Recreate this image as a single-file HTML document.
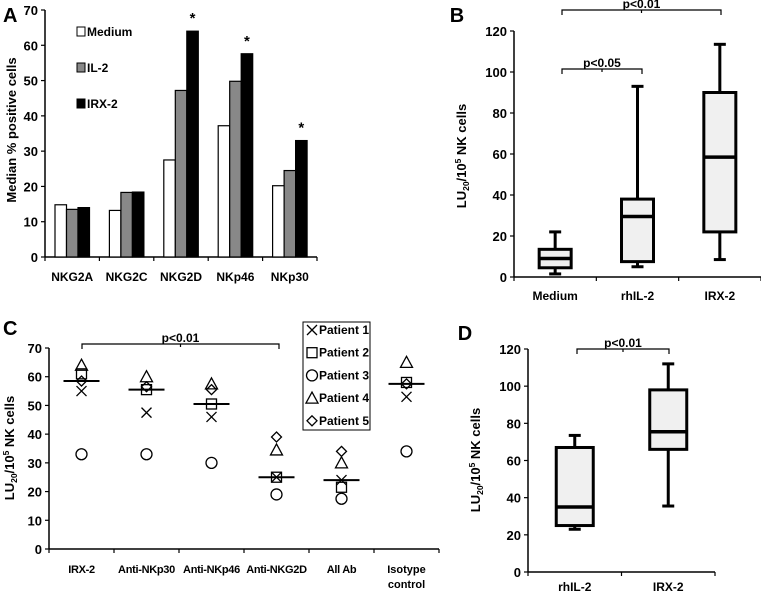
<!DOCTYPE html>
<html><head><meta charset="utf-8"><style>
body{margin:0;background:#fff}svg{display:block;font-family:"Liberation Sans",sans-serif;font-weight:bold}
</style></head><body>
<svg id="s" width="761" height="591" viewBox="0 0 761 591"></svg>
<script>
// Panel A data
const aCats=["NKG2A","NKG2C","NKG2D","NKp46","NKp30"];
const aMedium=[14.8,13.2,27.5,37.2,20.2];
const aIL2=[13.5,18.3,47.2,49.8,24.5];
const aIRX2=[14,18.4,64,57.6,33];
const aTicks=[0,10,20,30,40,50,60,70];
const aStars=[false,false,true,true,true];
// Panel B data
const bCats=["Medium","rhIL-2","IRX-2"];
const bMin=[1.5,5,8.5];
const bQ1=[4.5,7.5,22];
const bMed=[9,29.5,58.5];
const bQ3=[13.5,38,90];
const bMax=[22,93,113.5];
const bTicks=[0,20,40,60,80,100,120];
// Panel C data
const cCats=["IRX-2","Anti-NKp30","Anti-NKp46","Anti-NKG2D","All Ab","Isotype control"];
const cP1=[55,47.5,46,25,24,53];
const cP2=[61,55.5,50.5,25,21.5,58];
const cP3=[33,33,30,19,17.5,34];
const cP4=[64,60,57.5,34.5,30,65];
const cP5=[58.5,56.5,55.5,39,34,57.5];
const cMedian=[58.5,55.5,50.5,25,24,57.5];
const cTicks=[0,10,20,30,40,50,60,70];
// Panel D data
const dCats=["rhIL-2","IRX-2"];
const dMin=[23,35.5];
const dQ1=[25,66];
const dMed=[35,75.5];
const dQ3=[67,98];
const dMax=[73.5,112];
const dTicks=[0,20,40,60,80,100,120];

const S=document.getElementById('s');const NS="http://www.w3.org/2000/svg";
function el(t,a,p){const e=document.createElementNS(NS,t);for(const k in a)e.setAttribute(k,a[k]);(p||S).appendChild(e);return e;}
function txt(x,y,s,size,anchor,p){const e=el('text',{x:x,y:y,'font-size':size,'text-anchor':anchor||'middle'},p);e.textContent=s;return e;}
function axes(g,x0,x1,y0,y1,max,ticks,ncat,fs){
  const ys=v=>y0-(v/max)*(y0-y1);
  el('line',{x1:x0,y1:y0,x2:x0,y2:y1,stroke:'#000','stroke-width':1.5},g);
  el('line',{x1:x0,y1:y0,x2:x1,y2:y0,stroke:'#000','stroke-width':1.5},g);
  ticks.forEach(t=>{el('line',{x1:x0-4,y1:ys(t),x2:x0,y2:ys(t),stroke:'#000','stroke-width':1.2},g);
    const e=txt(x0-7,ys(t)+5,String(t),fs,'end',g);});
  const w=(x1-x0)/ncat;for(let i=0;i<=ncat;i++)el('line',{x1:x0+i*w,y1:y0,x2:x0+i*w,y2:y0+4,stroke:'#000','stroke-width':1.2},g);
  return ys;}
function ylabel(g,x,y,fs){const t=el('text',{transform:`translate(${x},${y}) rotate(-90)`,'font-size':fs,'text-anchor':'middle'},g);
  t.innerHTML='LU<tspan font-size="'+(fs*0.65)+'" dy="3">20</tspan><tspan dy="-3">/10</tspan><tspan font-size="'+(fs*0.65)+'" dy="-5">5</tspan><tspan dy="5"> NK cells</tspan>';
  }
function bracket(g,xa,xb,y,label){el('path',{d:`M${xa},${y+5}V${y}H${xb}V${y+5}M${(xa+xb)/2},${y}v3`,stroke:'#000','stroke-width':1.2,fill:'none'},g);
  const e=txt((xa+xb)/2,y-2,label,12,'middle',g);}
function boxes(g,x0,w,ys,mn,q1,md,q3,mx,bw){
  for(let i=0;i<mn.length;i++){const cx=x0+w*(i+0.5);
    const b=el('g',{},g);
    el('line',{x1:cx,y1:ys(mn[i]),x2:cx,y2:ys(mx[i]),stroke:'#000','stroke-width':3},b);
    el('line',{x1:cx-6,y1:ys(mn[i]),x2:cx+6,y2:ys(mn[i]),stroke:'#000','stroke-width':3},b);
    el('line',{x1:cx-6,y1:ys(mx[i]),x2:cx+6,y2:ys(mx[i]),stroke:'#000','stroke-width':3},b);
    el('rect',{x:cx-bw/2,y:ys(q3[i]),width:bw,height:ys(q1[i])-ys(q3[i]),fill:'#f0f0f0',stroke:'#000','stroke-width':3},b);
    el('line',{x1:cx-bw/2,y1:ys(md[i]),x2:cx+bw/2,y2:ys(md[i]),stroke:'#000','stroke-width':3.5},b);}}

// Panel A
const gA=el('g',{});
txt(3,22,'A',20,'start',gA);
const ysA=axes(gA,45,317,257,10,70,aTicks,5,13);
{const t=el('text',{transform:'translate(16,130) rotate(-90)','font-size':13,'text-anchor':'middle'},gA);t.textContent='Median % positive cells';
}
const cwA=272/5,bwA=11.5;
[aMedium,aIL2,aIRX2].forEach((ser,si)=>{const fill=['#fff','#888','#000'][si];
  ser.forEach((v,i)=>{const r=el('rect',{x:45+cwA*i+10+si*bwA,y:ysA(v),width:bwA,height:257-ysA(v),fill:fill,stroke:'#000','stroke-width':1.2},gA);
  });});
aCats.forEach((c,i)=>{const e=txt(45+cwA*(i+0.5),281,c,12,'middle',gA);
  if(aStars[i]){const s=txt(45+cwA*i+10+2.5*bwA,ysA(aIRX2[i])-8,'*',15,'middle',gA);}});
['Medium','IL-2','IRX-2'].forEach((n,i)=>{const y=[32,68,104][i];
  const g=el('g',{},gA);
  el('rect',{x:77,y:y-5,width:8,height:9,fill:['#fff','#888','#000'][i],stroke:'#000','stroke-width':1},g);txt(87,y+4,n,12,'start',g);});

// Panel B
const gB=el('g',{});
txt(457,22,'B',20,'middle',gB);
const ysB=axes(gB,514,761,277,31,120,bTicks,3,13);
ylabel(gB,466,156,13);
boxes(gB,514,247/3,ysB,bMin,bQ1,bMed,bQ3,bMax,32);
bCats.forEach((c,i)=>{const e=txt(514+247/3*(i+0.5),300,c,12,'middle',gB);});
bracket(gB,562,721,10,'p<0.01');bracket(gB,562,642,69,'p<0.05');

// Panel C
const gC=el('g',{});
txt(3,335,'C',20,'start',gC);
const ysC=axes(gC,49,439,549,348,70,cTicks,6,13);
ylabel(gC,14,448,13);
const cwC=390/6;
function marker(g,k,x,y){const a={fill:'none',stroke:'#000','stroke-width':1.3};
  if(k==0)el('path',Object.assign({d:`M${x-5},${y-5}L${x+5},${y+5}M${x-5},${y+5}L${x+5},${y-5}`},a),g);
  if(k==1)el('rect',Object.assign({x:x-5,y:y-5,width:10,height:10},a),g);
  if(k==2)el('circle',Object.assign({cx:x,cy:y,r:5.5},a),g);
  if(k==3)el('path',Object.assign({d:`M${x},${y-6}L${x+6},${y+5}L${x-6},${y+5}Z`},a),g);
  if(k==4)el('path',Object.assign({d:`M${x},${y-5}L${x+5},${y}L${x},${y+5}L${x-5},${y}Z`},a),g);}
[cP1,cP2,cP3,cP4,cP5].forEach((ser,k)=>ser.forEach((v,i)=>{const g=el('g',{},gC);marker(g,k,49+cwC*(i+0.5),ysC(v));}));
cMedian.forEach((v,i)=>{const l=el('line',{x1:49+cwC*(i+0.5)-18,x2:49+cwC*(i+0.5)+18,y1:ysC(v),y2:ysC(v),stroke:'#000','stroke-width':2},gC);});
cCats.forEach((c,i)=>{const x=49+cwC*(i+0.5);
  if(c=='Isotype control'){const e=txt(x,573,'Isotype',11,'middle',gC);const f=txt(x,588,'control',11,'middle',gC);}
  else{const e=txt(x,573,c,11,'middle',gC);e.setAttribute('letter-spacing','-0.3');}});
bracket(gC,82,279,344,'p<0.01');
{const lg=el('g',{},gC);
el('rect',{x:303,y:322,width:67,height:108,fill:'#fff',stroke:'#000','stroke-width':1},lg);
for(let k=0;k<5;k++){const y=330+k*22.7;const g=el('g',{},lg);
  marker(g,k,312,y);txt(319,y+4,'Patient '+(k+1),12,'start',g);}}

// Panel D
const gD=el('g',{});
txt(465,340,'D',20,'middle',gD);
const ysD=axes(gD,528,715,572,349,120,dTicks,2,13);
ylabel(gD,480,460,13);
boxes(gD,528,187/2,ysD,dMin,dQ1,dMed,dQ3,dMax,37);
dCats.forEach((c,i)=>{const e=txt(528+187/2*(i+0.5),591,c,12,'middle',gD);});
bracket(gD,577,669,349,'p<0.01');
</script></body></html>
